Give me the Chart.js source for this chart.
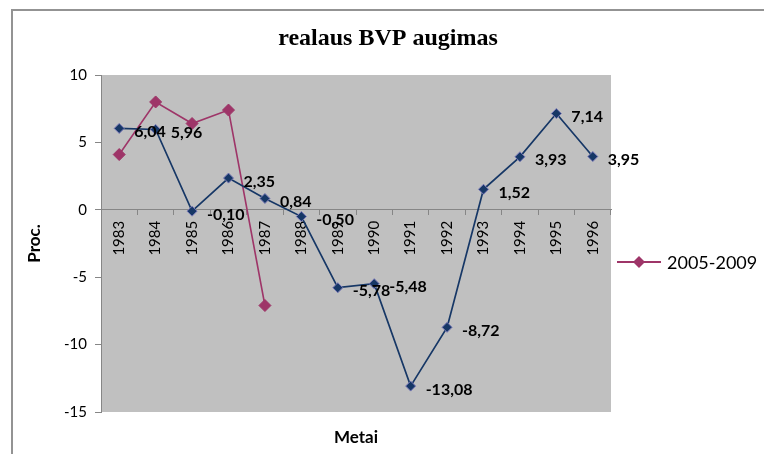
<!DOCTYPE html>
<html>
<head>
<meta charset="utf-8">
<script src="https://cdn.jsdelivr.net/npm/chart.js@4/dist/chart.umd.min.js"></script>
<style>
  html, body { margin: 0; padding: 0; background: #ffffff; }
  #wrap { position: relative; width: 764px; height: 454px; overflow: hidden; }
  #frame { position: absolute; left: 11px; top: 9px; width: 800px; height: 500px;
           border-top: 2px solid #939393; border-left: 2px solid #939393; }
  #c { position: absolute; left: 0; top: 0; }
</style>
</head>
<body>
<div id="wrap">
  <div id="frame"></div>
  <canvas id="c" width="764" height="454"></canvas>
</div>
<script>
// Years on the category axis
const years = ['1983', '1984', '1985', '1986', '1987', '1988', '1989',
               '1990', '1991', '1992', '1993', '1994', '1995', '1996'];
// Real GDP growth, %, 1983-1996
const growthEarly = [6.04, 5.96, -0.10, 2.35, 0.84, -0.50, -5.78,
                     -5.48, -13.08, -8.72, 1.52, 3.93, 7.14, 3.95];
// Real GDP growth, %, 2005-2009 (drawn on the first five slots)
const growthLate = [4.1, 8.0, 6.4, 7.4, -7.1];
const lateLabel = '2005-2009';
// Value axis
const yMin = -15, yMax = 10, yStep = 5;

const NAVY = '#163766';
const PLUM = '#9E3568';
const AXIS = '#868686';
const FONT = 'Lato, "Open Sans", sans-serif';

// Grey plotting area
const plotBackground = {
  id: 'plotBackground',
  beforeDraw(chart) {
    const { ctx, chartArea: a } = chart;
    ctx.save();
    ctx.fillStyle = '#C0C0C0';
    ctx.fillRect(a.left, a.top, a.right - a.left, a.bottom - a.top);
    ctx.restore();
  }
};

// Value labels to the right of each point of the first series
const valueLabels = {
  id: 'valueLabels',
  afterDatasetsDraw(chart) {
    const { ctx } = chart;
    const ds = chart.data.datasets[0];
    const meta = chart.getDatasetMeta(0);
    ctx.save();
    ctx.font = 'bold 16px ' + FONT;
    ctx.fillStyle = '#000000';
    ctx.textAlign = 'left';
    ctx.textBaseline = 'alphabetic';
    meta.data.forEach((pt, i) => {
      const txt = ds.data[i].toFixed(2).replace('.', ',');
      ctx.fillText(txt, pt.x + 15, pt.y + 8.5);
    });
    ctx.restore();
  }
};

// Legend entry (line with marker) for the named series, in the right-hand gutter
const sideLegend = {
  id: 'sideLegend',
  afterDraw(chart) {
    const { ctx, chartArea: a } = chart;
    const ds = chart.data.datasets[1];
    const x0 = a.right + 6, x1 = x0 + 44, y = 262;
    ctx.save();
    ctx.strokeStyle = ds.borderColor;
    ctx.lineWidth = 2;
    ctx.beginPath();
    ctx.moveTo(x0, y); ctx.lineTo(x1, y);
    ctx.stroke();
    const cx = (x0 + x1) / 2, r = 6;
    ctx.fillStyle = ds.pointBackgroundColor;
    ctx.beginPath();
    ctx.moveTo(cx - r, y); ctx.lineTo(cx, y - r);
    ctx.lineTo(cx + r, y); ctx.lineTo(cx, y + r);
    ctx.closePath();
    ctx.fill();
    ctx.fillStyle = '#000000';
    ctx.font = '18px ' + FONT;
    ctx.textAlign = 'left';
    ctx.textBaseline = 'alphabetic';
    ctx.fillText(ds.label, x1 + 6, y + 6.5);
    ctx.restore();
  }
};

new Chart(document.getElementById('c'), {
  type: 'line',
  data: {
    labels: years,
    datasets: [
      {
        label: '',
        data: growthEarly,
        borderColor: NAVY,
        borderWidth: 1.7,
        pointStyle: 'rectRot',
        pointRadius: 5,
        pointBackgroundColor: NAVY,
        pointBorderColor: '#7878B8',
        pointBorderWidth: 1,
        tension: 0
      },
      {
        label: lateLabel,
        data: growthLate,
        borderColor: PLUM,
        borderWidth: 1.6,
        pointStyle: 'rectRot',
        pointRadius: 6,
        pointBackgroundColor: PLUM,
        pointBorderColor: PLUM,
        pointBorderWidth: 1,
        tension: 0
      }
    ]
  },
  options: {
    responsive: false,
    devicePixelRatio: 1,
    animation: false,
    layout: { padding: { left: 12, top: 10, right: 0, bottom: 0 } },
    plugins: {
      legend: { display: false },
      tooltip: { enabled: false },
      title: {
        display: true,
        text: 'realaus BVP augimas',
        color: '#000000',
        font: { family: '"Liberation Serif", "Times New Roman", serif', size: 24, weight: 'bold', lineHeight: 1.2 },
        padding: { top: 14.6, bottom: 21.6 }
      },
      subtitle: {
        display: true,
        position: 'bottom',
        fullSize: false,
        text: 'Metai',
        color: '#000000',
        font: { family: FONT, size: 17, weight: 'bold', lineHeight: 1.2 },
        padding: { top: 15.8, bottom: 5.8 }
      }
    },
    scales: {
      x: {
        position: { y: 0 },
        offset: true,
        grid: { display: true, drawOnChartArea: false, drawTicks: true, tickLength: 5, color: AXIS, offset: true },
        border: { display: true, color: AXIS, width: 1 },
        ticks: {
          color: '#000000',
          font: { family: FONT, size: 15 },
          minRotation: 90,
          maxRotation: 90,
          autoSkip: false,
          padding: 6
        },
        title: { display: false }
      },
      y: {
        position: 'left',
        min: yMin,
        max: yMax,
        afterFit(scale) { scale.width = 89; },
        grid: { display: true, drawOnChartArea: false, drawTicks: true, tickLength: 6, color: AXIS },
        border: { display: true, color: AXIS, width: 1 },
        ticks: {
          stepSize: yStep,
          color: '#000000',
          font: { family: FONT, size: 15 },
          padding: 8
        },
        title: {
          display: true,
          text: 'Proc.',
          color: '#000000',
          font: { family: FONT, size: 17, weight: 'bold', lineHeight: 1.2 },
          padding: { top: 12, bottom: 0 }
        }
      },
      // Empty right-hand axis that keeps a gutter for the legend entry
      gutter: {
        type: 'linear',
        position: 'right',
        min: yMin,
        max: yMax,
        afterFit(scale) { scale.width = 153; },
        grid: { display: false },
        border: { display: false },
        ticks: { display: false }
      }
    }
  },
  plugins: [plotBackground, valueLabels, sideLegend]
});
</script>
</body>
</html>
